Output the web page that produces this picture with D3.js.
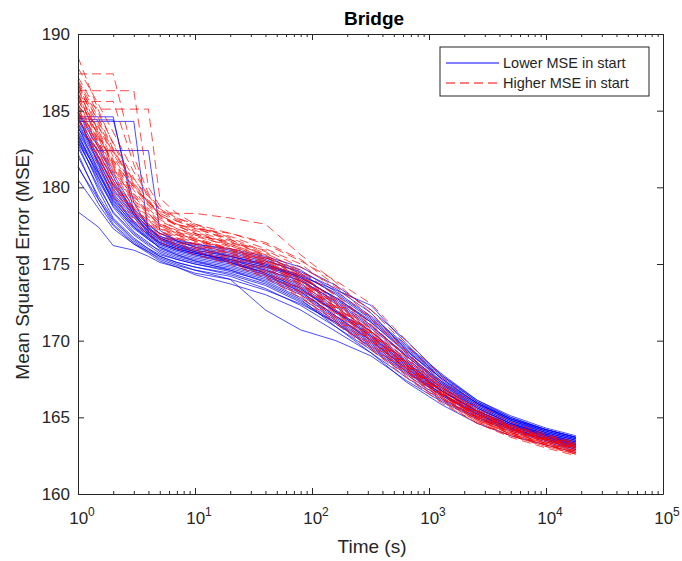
<!DOCTYPE html>
<html>
<head>
<meta charset="utf-8">
<script src="https://cdn.jsdelivr.net/npm/d3@7/dist/d3.min.js"></script>
<style>
  body { margin: 0; background: #fff; }
  svg { font-family: "Liberation Sans", Arial, sans-serif; }
  .axis path, .axis line { stroke: #262626; }
  .axis text { fill: #262626; }
</style>
</head>
<body>
<svg id="chart" width="682" height="561"></svg>
<script>
// time points shared by every run (s)
const times = [1, 1.5, 2, 3, 4, 5, 7, 10, 20, 40, 80, 160, 320, 640, 1300, 2600, 5000, 10000, 18000];

// runs that started with the lower MSE
const lowerRuns = [
  [184.6, 184.6, 184.6, 178.4, 176.9, 176.3, 175.9, 175.6, 175.1, 174.4, 173.4, 171.9, 170.3, 168.4, 166.7, 165.3, 164.4, 163.7, 163.2],
  [184.3, 184.3, 184.3, 184.3, 177.0, 176.4, 176.0, 175.7, 175.3, 174.6, 173.9, 172.6, 171.0, 169.0, 167.1, 165.6, 164.6, 163.9, 163.4],
  [183.8, 182.4, 182.4, 182.4, 182.4, 177.2, 176.5, 176.1, 175.5, 175.0, 174.1, 172.8, 171.2, 169.2, 167.2, 165.7, 164.7, 164.0, 163.5],
  [184.5, 184.4, 184.4, 179.0, 177.4, 176.7, 176.2, 175.8, 175.1, 174.3, 173.2, 171.6, 170.0, 168.2, 166.5, 165.2, 164.3, 163.6, 163.1],
  [178.4, 177.4, 176.2, 175.9, 175.5, 175.1, 174.8, 174.4, 174.0, 172.0, 170.7, 170.0, 169.0, 167.4, 166.0, 164.9, 164.1, 163.4, 162.8],
  [180.5, 178.6, 177.3, 176.3, 175.8, 175.4, 175.0, 174.6, 174.2, 173.4, 172.3, 170.9, 169.4, 167.8, 166.2, 165.0, 164.2, 163.5, 162.9],
  [181.3, 179.2, 177.8, 176.5, 175.9, 175.5, 175.1, 174.8, 174.4, 173.7, 172.6, 171.2, 169.7, 168.0, 166.4, 165.1, 164.3, 163.6, 163.0],
  [182.0, 179.4, 177.9, 176.6, 176.0, 175.6, 175.3, 175.0, 174.5, 173.9, 172.8, 171.3, 169.8, 168.1, 166.5, 165.2, 164.3, 163.6, 163.1],
  [182.6, 180.0, 178.4, 177.0, 176.3, 175.9, 175.5, 175.2, 174.8, 174.2, 173.2, 171.6, 170.1, 168.4, 166.8, 165.4, 164.5, 163.8, 163.2],
  [183.0, 180.4, 178.8, 177.3, 176.6, 176.1, 175.7, 175.4, 175.0, 174.5, 173.5, 171.9, 170.3, 168.6, 166.9, 165.6, 164.6, 163.9, 163.3],
  [183.3, 180.8, 179.1, 177.6, 176.8, 176.3, 175.9, 175.6, 175.2, 174.7, 173.7, 172.2, 170.6, 168.8, 167.1, 165.7, 164.7, 163.9, 163.4],
  [183.6, 181.2, 179.5, 177.8, 177.0, 176.5, 176.1, 175.8, 175.4, 174.9, 174.0, 172.5, 170.9, 169.1, 167.3, 165.8, 164.8, 164.0, 163.5],
  [183.9, 181.6, 179.8, 178.1, 177.2, 176.7, 176.3, 176.0, 175.6, 175.1, 174.2, 172.7, 171.2, 169.3, 167.5, 165.9, 164.9, 164.1, 163.6],
  [184.2, 181.9, 180.1, 178.3, 177.4, 176.8, 176.4, 176.2, 175.8, 175.3, 174.4, 173.0, 171.4, 169.5, 167.6, 166.0, 165.0, 164.2, 163.7],
  [184.5, 182.3, 180.4, 178.5, 177.5, 177.0, 176.6, 176.3, 175.9, 175.4, 174.6, 173.2, 171.6, 169.7, 167.8, 166.1, 165.1, 164.3, 163.8],
  [184.8, 182.6, 180.7, 178.2, 177.1, 176.6, 176.2, 175.9, 175.5, 175.0, 174.1, 172.8, 171.3, 169.4, 167.5, 165.9, 164.9, 164.1, 163.6],
  [183.2, 180.2, 178.3, 176.9, 176.2, 175.7, 175.3, 175.0, 174.6, 174.0, 173.0, 171.4, 169.9, 168.2, 166.7, 165.4, 164.5, 163.8, 163.2],
  [182.8, 179.8, 178.0, 176.7, 176.0, 175.5, 175.1, 174.8, 174.3, 173.6, 172.5, 171.1, 169.6, 168.0, 166.5, 165.3, 164.4, 163.7, 163.1],
  [183.5, 180.6, 178.7, 177.1, 176.4, 175.8, 175.4, 175.1, 174.7, 174.1, 173.1, 171.5, 170.0, 168.3, 166.7, 165.4, 164.5, 163.7, 163.2],
  [184.0, 181.0, 179.0, 177.4, 176.7, 176.2, 175.8, 175.5, 175.1, 174.6, 173.6, 172.0, 170.4, 168.7, 167.0, 165.6, 164.6, 163.8, 163.3],
  [184.7, 181.5, 179.4, 177.7, 176.9, 176.4, 176.0, 175.7, 175.3, 174.8, 173.9, 172.4, 170.8, 169.0, 167.2, 165.8, 164.8, 164.0, 163.5],
  [183.7, 181.4, 179.6, 178.0, 177.1, 176.6, 176.1, 175.8, 175.2, 174.4, 173.4, 171.8, 170.2, 168.5, 166.9, 165.5, 164.6, 163.9, 163.4],
  [184.1, 181.7, 179.9, 178.2, 177.3, 176.7, 176.3, 175.9, 175.5, 174.9, 174.3, 173.1, 171.5, 169.6, 167.7, 166.1, 165.0, 164.2, 163.7],
  [182.2, 179.2, 177.6, 176.4, 175.8, 175.3, 174.9, 174.6, 174.0, 173.3, 172.4, 171.2, 169.5, 167.9, 166.4, 165.2, 164.3, 163.6, 163.0],
  [181.4, 178.9, 177.5, 176.3, 175.7, 175.2, 174.8, 174.3, 173.7, 173.0, 172.0, 170.6, 169.2, 167.6, 166.1, 165.0, 164.2, 163.5, 162.9],
  [184.4, 182.0, 180.2, 178.4, 177.3, 176.8, 176.5, 176.3, 176.0, 175.5, 174.8, 173.6, 172.0, 170.0, 167.7, 166.0, 164.9, 164.2, 163.7],
  [183.4, 181.0, 179.3, 177.7, 176.9, 176.4, 176.0, 175.7, 175.3, 174.8, 174.2, 173.3, 172.3, 169.8, 167.4, 165.9, 164.8, 164.1, 163.6],
  [184.9, 182.8, 180.9, 178.6, 177.6, 177.0, 176.5, 176.1, 175.7, 175.2, 174.5, 173.4, 171.8, 169.4, 167.3, 165.9, 164.9, 164.2, 163.7],
  [182.9, 180.6, 178.9, 177.4, 176.6, 176.1, 175.6, 175.3, 174.9, 174.3, 173.3, 171.9, 170.6, 168.6, 166.7, 165.4, 164.5, 163.8, 163.3],
  [183.1, 180.9, 179.2, 177.5, 176.7, 176.0, 175.6, 175.2, 174.6, 173.8, 172.7, 170.9, 169.2, 167.3, 165.8, 164.6, 163.8, 163.2, 162.7]
];

// runs that started with the higher MSE
const higherRuns = [
  [187.4, 187.4, 187.4, 182.0, 179.6, 178.6, 177.9, 177.4, 176.5, 175.6, 174.3, 172.4, 170.6, 168.6, 166.7, 165.2, 164.3, 163.6, 163.1],
  [186.3, 186.3, 186.3, 186.3, 180.0, 178.8, 178.0, 177.5, 176.6, 175.5, 174.1, 172.3, 170.5, 168.5, 166.6, 165.1, 164.2, 163.5, 163.0],
  [185.6, 185.6, 185.6, 181.5, 179.2, 178.2, 177.5, 177.0, 176.3, 175.4, 174.0, 172.2, 170.4, 168.4, 166.5, 165.0, 164.0, 163.3, 162.7],
  [186.0, 185.1, 185.1, 185.1, 185.1, 179.3, 178.3, 177.6, 176.7, 175.8, 174.4, 172.5, 170.7, 168.7, 166.8, 165.3, 164.4, 163.7, 163.2],
  [188.5, 185.0, 182.8, 180.3, 179.0, 178.2, 177.6, 177.1, 176.3, 175.5, 174.2, 172.4, 170.6, 168.6, 166.7, 165.2, 164.2, 163.4, 162.9],
  [186.8, 183.6, 181.5, 179.4, 178.4, 177.7, 177.1, 176.7, 176.0, 175.1, 173.8, 172.0, 170.2, 168.3, 166.5, 165.0, 164.1, 163.5, 163.0],
  [186.5, 183.2, 181.1, 179.0, 178.0, 177.4, 176.9, 176.5, 175.8, 174.9, 173.6, 171.9, 170.1, 168.2, 166.4, 164.9, 163.9, 163.2, 162.7],
  [186.2, 182.8, 180.7, 178.7, 177.8, 177.2, 176.7, 176.3, 175.6, 174.7, 173.4, 171.7, 170.0, 168.1, 166.3, 164.8, 163.9, 163.2, 162.6],
  [185.8, 182.5, 180.4, 178.4, 177.5, 176.9, 176.5, 176.1, 175.4, 174.5, 173.2, 171.5, 169.8, 168.0, 166.2, 164.8, 163.9, 163.3, 162.8],
  [185.4, 182.1, 180.0, 178.1, 177.2, 176.7, 176.3, 175.9, 175.2, 174.3, 173.0, 171.3, 169.6, 167.8, 166.1, 164.7, 163.8, 163.1, 162.6],
  [185.0, 181.8, 179.7, 177.9, 177.1, 176.6, 176.2, 175.8, 175.1, 174.2, 172.9, 171.2, 169.5, 167.7, 166.0, 164.6, 163.7, 163.0, 162.5],
  [184.6, 181.4, 179.4, 177.7, 176.9, 176.4, 176.0, 175.6, 175.0, 174.1, 172.8, 171.1, 169.4, 167.6, 165.9, 164.6, 163.8, 163.2, 162.7],
  [187.0, 184.5, 182.5, 180.2, 178.9, 178.1, 177.5, 177.0, 176.2, 175.3, 173.9, 172.1, 170.3, 168.4, 166.6, 165.1, 164.2, 163.6, 163.1],
  [186.6, 184.0, 182.0, 179.8, 178.6, 177.9, 177.3, 176.9, 176.1, 175.2, 173.8, 172.0, 170.2, 168.3, 166.5, 165.0, 164.0, 163.3, 162.8],
  [185.3, 183.9, 182.3, 180.5, 179.4, 178.6, 178.0, 177.6, 177.0, 176.4, 175.3, 173.6, 171.5, 169.2, 167.0, 165.4, 164.4, 163.7, 163.3],
  [184.9, 183.2, 181.7, 180.0, 179.0, 178.4, 178.3, 178.3, 178.0, 177.6, 175.6, 173.8, 171.8, 169.3, 167.0, 165.4, 164.3, 163.5, 163.0],
  [185.7, 183.4, 181.4, 179.2, 178.2, 177.6, 177.1, 176.6, 175.9, 175.0, 173.7, 171.9, 170.1, 168.2, 166.4, 164.9, 164.1, 163.5, 163.0],
  [186.1, 183.0, 181.0, 178.9, 177.9, 177.3, 176.8, 176.4, 175.7, 174.8, 173.5, 171.8, 170.0, 168.1, 166.3, 164.9, 163.9, 163.2, 162.7],
  [184.8, 182.0, 180.1, 178.3, 177.4, 176.8, 176.4, 176.0, 175.3, 174.4, 173.1, 171.4, 169.7, 167.9, 166.2, 164.7, 163.8, 163.1, 162.6],
  [185.5, 182.6, 180.6, 178.6, 177.6, 177.0, 176.6, 176.2, 175.5, 174.6, 173.3, 171.6, 169.9, 168.0, 166.3, 164.8, 164.0, 163.4, 162.9],
  [187.2, 184.8, 182.9, 180.6, 179.1, 178.2, 177.6, 177.2, 176.4, 175.6, 174.3, 172.6, 170.8, 168.8, 166.9, 165.3, 164.3, 163.5, 163.0],
  [186.4, 183.5, 181.3, 179.1, 178.1, 177.5, 177.0, 176.6, 175.9, 175.1, 173.9, 172.2, 170.5, 168.5, 166.6, 165.1, 164.2, 163.6, 163.1],
  [185.2, 182.3, 180.3, 178.5, 177.7, 177.1, 176.7, 176.3, 175.7, 175.0, 173.7, 172.1, 170.4, 168.4, 166.5, 165.0, 164.0, 163.3, 162.8],
  [184.4, 181.9, 180.2, 178.6, 177.8, 177.3, 176.9, 176.5, 176.0, 175.3, 174.2, 172.7, 171.0, 169.0, 167.0, 165.4, 164.5, 163.8, 163.3],
  [186.9, 184.2, 182.2, 180.0, 178.8, 178.0, 177.6, 177.3, 177.0, 176.3, 175.2, 173.9, 172.4, 170.0, 167.6, 165.8, 164.7, 163.9, 163.4],
  [185.9, 183.3, 181.6, 179.6, 178.5, 177.8, 177.3, 176.9, 176.4, 175.9, 174.8, 173.5, 172.0, 169.7, 167.3, 165.6, 164.5, 163.8, 163.3],
  [186.7, 184.3, 182.4, 180.1, 179.0, 178.3, 177.8, 177.4, 176.8, 176.0, 175.0, 173.3, 171.4, 169.2, 167.2, 165.5, 164.4, 163.7, 163.2],
  [185.1, 182.9, 181.2, 179.3, 178.3, 177.6, 177.2, 176.8, 176.2, 175.4, 174.5, 173.0, 171.1, 168.9, 166.9, 165.3, 164.3, 163.6, 163.1],
  [187.8, 185.4, 183.6, 181.0, 179.5, 178.5, 177.8, 177.3, 176.6, 175.7, 174.6, 172.9, 171.0, 168.9, 166.8, 165.2, 164.3, 163.6, 163.1],
  [186.0, 183.7, 181.8, 179.5, 178.3, 177.5, 177.0, 176.6, 176.0, 175.2, 174.0, 172.3, 170.6, 168.5, 166.6, 165.0, 164.1, 163.4, 162.9]
];

const xTickExps = [0, 1, 2, 3, 4, 5];
const yTicks = [160, 165, 170, 175, 180, 185, 190];
const seriesNames = ['Lower MSE in start', 'Higher MSE in start'];

const svg = d3.select('#chart');
const margin = { left: 78, right: 19, top: 34, bottom: 67 };
const width = +svg.attr('width');
const height = +svg.attr('height');

const x = d3.scaleLog()
  .domain([1, 1e5])
  .range([margin.left, width - margin.right]);
const y = d3.scaleLinear()
  .domain([160, 190])
  .range([height - margin.bottom, margin.top]);

const line = d3.line()
  .x((d, i) => x(times[i]))
  .y((d) => y(d));

const dash = '9,5';

// blue runs first, red runs drawn on top
const runs = lowerRuns.map((r) => ({ values: r, kind: 0 }))
  .concat(higherRuns.map((r) => ({ values: r, kind: 1 })));

svg.append('g')
  .selectAll('path')
  .data(runs)
  .enter()
  .append('path')
  .attr('d', (d) => line(d.values))
  .attr('fill', 'none')
  .attr('stroke', (d) => (d.kind === 0 ? '#0000ff' : '#ff0000'))
  .attr('stroke-opacity', 0.7)
  .attr('stroke-width', 1)
  .attr('stroke-dasharray', (d) => (d.kind === 0 ? null : dash));

// minor ticks on the log axis (2..9 of each decade)
const minorTicks = [];
xTickExps.slice(0, -1).forEach((e) => {
  for (let k = 2; k <= 9; k++) minorTicks.push(k * Math.pow(10, e));
});
const majorTicks = xTickExps.map((e) => Math.pow(10, e));

svg.append('g')
  .attr('class', 'axis')
  .attr('transform', `translate(0, ${height - margin.bottom})`)
  .call(d3.axisBottom(x).tickValues(majorTicks).tickSize(-6).tickFormat('').tickSizeOuter(0));
svg.append('g')
  .attr('class', 'axis')
  .attr('transform', `translate(0, ${height - margin.bottom})`)
  .call(d3.axisBottom(x).tickValues(minorTicks).tickSize(-3).tickFormat('').tickSizeOuter(0))
  .select('.domain').remove();
svg.append('g')
  .attr('class', 'axis')
  .attr('transform', `translate(0, ${margin.top})`)
  .call(d3.axisTop(x).tickValues(majorTicks).tickSize(-6).tickFormat('').tickSizeOuter(0));
svg.append('g')
  .attr('class', 'axis')
  .attr('transform', `translate(0, ${margin.top})`)
  .call(d3.axisTop(x).tickValues(minorTicks).tickSize(-3).tickFormat('').tickSizeOuter(0))
  .select('.domain').remove();

svg.append('g')
  .attr('class', 'axis')
  .attr('transform', `translate(${margin.left}, 0)`)
  .call(d3.axisLeft(y).tickValues(yTicks).tickSize(-6).tickPadding(8).tickSizeOuter(0))
  .selectAll('text')
  .style('font-size', '17px');
svg.append('g')
  .attr('class', 'axis')
  .attr('transform', `translate(${width - margin.right}, 0)`)
  .call(d3.axisRight(y).tickValues(yTicks).tickSize(-6).tickFormat('').tickSizeOuter(0));

// 10^n labels
const xLab = svg.append('g').attr('fill', '#262626').style('font-size', '17px');
xTickExps.forEach((e) => {
  const t = xLab.append('text')
    .attr('x', x(Math.pow(10, e)) + 4)
    .attr('y', height - margin.bottom + 30)
    .attr('text-anchor', 'middle');
  t.append('tspan').text('10');
  t.append('tspan').attr('dy', -8).style('font-size', '12px').text(e);
});

svg.append('text')
  .attr('x', 372)
  .attr('y', 553)
  .attr('text-anchor', 'middle')
  .attr('fill', '#262626')
  .style('font-size', '19px')
  .text('Time (s)');

svg.append('text')
  .attr('transform', `translate(29, ${(margin.top + height - margin.bottom) / 2}) rotate(-90)`)
  .attr('text-anchor', 'middle')
  .attr('fill', '#262626')
  .style('font-size', '19px')
  .text('Mean Squared Error (MSE)');

svg.append('text')
  .attr('x', 374)
  .attr('y', 25)
  .attr('text-anchor', 'middle')
  .attr('fill', '#000')
  .style('font-size', '19px')
  .style('font-weight', 'bold')
  .text('Bridge');

// legend
const legend = svg.append('g').attr('transform', 'translate(440, 47)');
legend.append('rect')
  .attr('width', 209)
  .attr('height', 49)
  .attr('fill', '#fff')
  .attr('stroke', '#262626')
  .attr('stroke-width', 1);
seriesNames.forEach((name, i) => {
  const ly = 16 + i * 20;
  legend.append('line')
    .attr('x1', 6).attr('x2', 59)
    .attr('y1', ly).attr('y2', ly)
    .attr('stroke', i === 0 ? '#0000ff' : '#ff0000')
    .attr('stroke-dasharray', i === 0 ? null : dash);
  legend.append('text')
    .attr('x', 63)
    .attr('y', ly + 5)
    .attr('fill', '#262626')
    .style('font-size', '14.5px')
    .text(name);
});
</script>
</body>
</html>
